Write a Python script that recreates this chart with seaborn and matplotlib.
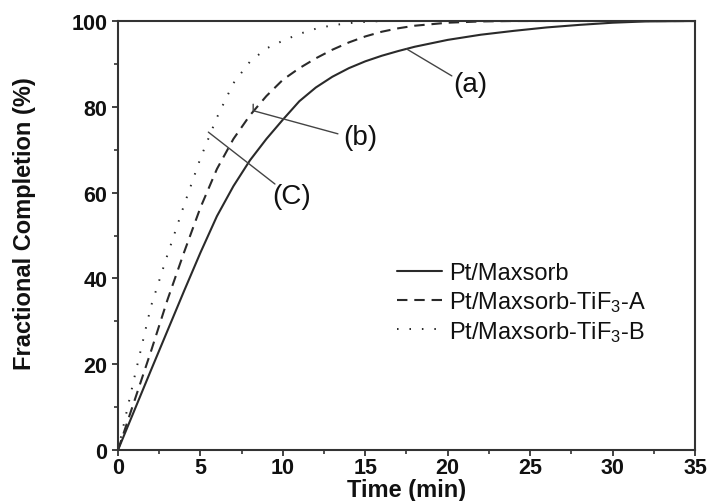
import matplotlib
matplotlib.use("Agg")
import matplotlib.pyplot as plt
import seaborn as sns
import pandas as pd
from matplotlib.ticker import MultipleLocator

# ---- data ----
t_a = [0, 1, 2, 3, 4, 5, 6, 7, 8, 9, 10, 11, 12, 13, 14, 15, 16, 17, 18, 20, 22, 24, 26, 28, 30, 32, 35]
y_a = [0, 9.3, 18.6, 27.8, 37, 46, 54.5, 61.5, 67.5, 72.5, 77, 81.3, 84.5, 87, 89, 90.6, 91.9, 93, 94, 95.6, 96.8, 97.7, 98.5, 99.1, 99.6, 99.9, 100]
t_b = [0, 1, 2, 3, 4, 5, 6, 7, 8, 9, 10, 11, 12, 13, 14, 15, 16, 17, 18, 20, 22, 24, 35]
y_b = [0, 11.5, 23, 35, 46, 56.5, 65.5, 72.5, 78, 82.5, 86.3, 89, 91.3, 93.3, 95, 96.4, 97.5, 98.3, 98.9, 99.6, 99.9, 100, 100]
t_c = [0, 1, 2, 3, 4, 5, 6, 7, 8, 9, 10, 11, 12, 13, 14, 15, 16, 35]
y_c = [0, 17, 33.5, 45.5, 57, 68, 77.5, 85.5, 90.5, 93.6, 95.4, 97, 98.2, 99, 99.5, 99.8, 100, 100]
labels = ["Pt/Maxsorb", "Pt/Maxsorb-TiF$_3$-A", "Pt/Maxsorb-TiF$_3$-B"]
x_ticks = [0, 5, 10, 15, 20, 25, 30, 35]
y_ticks = [0, 20, 40, 60, 80, 100]

sns.set_theme(style="white")
plt.rcParams["font.family"] = ["Liberation Sans", "DejaVu Sans"]
plt.rcParams["mathtext.fontset"] = "custom"
plt.rcParams["mathtext.rm"] = "Liberation Sans"
plt.rcParams["mathtext.it"] = "Liberation Sans:italic"
plt.rcParams["mathtext.bf"] = "Liberation Sans:bold"

fig = plt.figure(figsize=(7.1, 5.02), dpi=100)
ax = fig.add_axes([118/710, 1-451/502, (695-118)/710, (451-22)/502])

line_col = "#2a2a2a"
df_a = pd.DataFrame({"t": t_a, "y": y_a})
df_b = pd.DataFrame({"t": t_b, "y": y_b})
df_c = pd.DataFrame({"t": t_c, "y": y_c})
sns.lineplot(data=df_a, x="t", y="y", ax=ax, color=line_col, lw=1.5, label=labels[0])
sns.lineplot(data=df_b, x="t", y="y", ax=ax, color=line_col, lw=1.5, label=labels[1],
             linestyle=(0, (5, 3.3)))
sns.lineplot(data=df_c, x="t", y="y", ax=ax, color=line_col, lw=1.4, label=labels[2],
             linestyle=(0, (0.8, 5.6)))

ax.set_xlim(0, 35)
ax.set_ylim(0, 100)
ax.set_xticks(x_ticks)
ax.set_yticks(y_ticks)
ax.xaxis.set_minor_locator(MultipleLocator(2.5))
ax.yaxis.set_minor_locator(MultipleLocator(10))
ax.tick_params(axis="both", which="major", direction="out", length=4.5, width=1.3,
               color="#333333", labelsize=15.5, labelcolor="#111111")
ax.tick_params(axis="both", which="minor", direction="out", length=3, width=1.2, color="#333333")
ax.tick_params(axis="x", which="both", pad=0.5, bottom=True, top=False)
ax.tick_params(axis="y", which="both", pad=3, left=True, right=False)
for lab in ax.get_xticklabels() + ax.get_yticklabels():
    lab.set_fontweight("bold")
for sp in ax.spines.values():
    sp.set_visible(True)
    sp.set_color("#333333")
    sp.set_linewidth(1.5)

ax.set_xlabel("Time (min)", fontsize=17, fontweight="bold", color="#111111")
ax.set_ylabel("Fractional Completion (%)", fontsize=17, fontweight="bold", color="#111111")
ax.xaxis.set_label_coords(0.5, -0.066)
ax.yaxis.set_label_coords(-0.142, 0.531)

# annotations
ann_col = "#444444"
ax.plot([17.5, 20.25], [93.5, 87.2], color=ann_col, lw=1)
ax.text(21.35, 85.3, "(a)", fontsize=20, ha="center", va="center", color="#111111")
ax.plot([8.2, 8.2, 13.34], [80.6, 79.1, 73.7], color=ann_col, lw=1)
ax.text(14.68, 73.0, "(b)", fontsize=20, ha="center", va="center", color="#111111")
ax.plot([5.48, 9.52], [74.1, 62.0], color=ann_col, lw=1)
ax.text(10.55, 59.2, "(C)", fontsize=20, ha="center", va="center", color="#111111")

leg = ax.legend(loc="center left", bbox_to_anchor=(397/710, 1-304/502),
                bbox_transform=fig.transFigure, frameon=False, fontsize=17,
                handlelength=1.9, handletextpad=0.3, labelspacing=0.2,
                borderpad=0, borderaxespad=0)
for txt in leg.get_texts():
    txt.set_color("#111111")

fig.savefig("out.png", dpi=100)
